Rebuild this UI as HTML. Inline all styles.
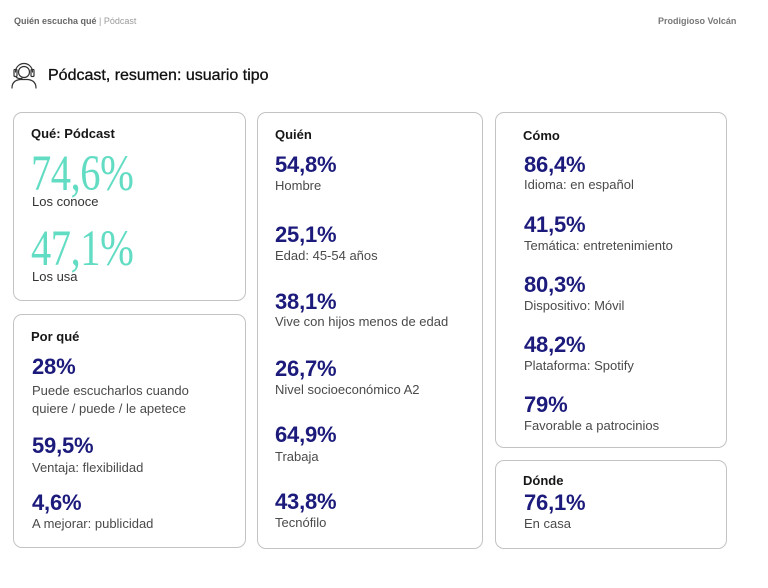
<!DOCTYPE html>
<html>
<head>
<meta charset="utf-8">
<style>
  html,body{margin:0;padding:0;background:#fff;}
  body{width:768px;height:588px;position:relative;overflow:hidden;font-family:"Liberation Sans",Arial,sans-serif;}
  .a{position:absolute;white-space:nowrap;}
  .box{position:absolute;border:1.3px solid #c3c3c3;border-radius:9px;box-sizing:border-box;background:#fff;}
  .hd{font-size:13px;line-height:16px;font-weight:bold;color:#161616;}
  .num{font-size:22px;line-height:22px;font-weight:bold;color:#1c1b7c;letter-spacing:-0.2px;}
  .lab{font-size:13px;line-height:16px;color:#4a4a4a;}
  .big{font-family:"Liberation Serif","Times New Roman",serif;font-size:46px;line-height:46px;color:#62dcc3;transform:scale(0.88,1.1);transform-origin:0 0;letter-spacing:-0.5px;}
</style>
</head>
<body>
  <div class="a" style="left:14px;top:15px;font-size:9px;line-height:12px;"><b style="color:#666;">Quién escucha qué</b> <span style="color:#9a9a9a;">| Pódcast</span></div>
  <div class="a" style="left:658px;top:15px;font-size:9px;line-height:12px;font-weight:bold;color:#777;">Prodigioso Volcán</div>

  <svg class="a" style="left:0;top:0" width="60" height="100" viewBox="0 0 60 100">
    <g fill="none" stroke="#333" stroke-width="1.2" stroke-linecap="round">
      <circle cx="24" cy="72" r="5.5"/>
      <path d="M15.5,72 A8.5,8.5 0 0 1 32.5,72"/>
      <rect x="14" y="69.5" width="3" height="7" rx="1"/>
      <rect x="31" y="69.5" width="3" height="7" rx="1"/>
      <path d="M16,76.5 Q17,79 22,78.5"/>
      <path d="M12,88 C12,82 16,80 20,79.5 L28,79.5 C32,80 36,82 36,88"/>
    </g>
  </svg>
  <div class="a" style="left:48px;top:66px;font-size:16px;line-height:20px;color:#111;-webkit-text-stroke:0.3px #111;">Pódcast, resumen: usuario tipo</div>

  <div class="box" style="left:13px;top:112px;width:233px;height:189px;"></div>
  <div class="box" style="left:13px;top:314px;width:233px;height:234px;"></div>
  <div class="box" style="left:257px;top:112px;width:226px;height:437px;"></div>
  <div class="box" style="left:495px;top:112px;width:232px;height:336px;"></div>
  <div class="box" style="left:495px;top:460px;width:232px;height:89px;"></div>

  <!-- Box 1 -->
  <div class="a hd" style="left:31px;top:126px;">Qué: Pódcast</div>
  <div class="a big" style="left:31px;top:148px;">74,6%</div>
  <div class="a lab" style="left:32px;top:194px;color:#333;">Los conoce</div>
  <div class="a big" style="left:31px;top:223px;">47,1%</div>
  <div class="a lab" style="left:32px;top:269px;color:#333;">Los usa</div>

  <!-- Box 2 -->
  <div class="a hd" style="left:31px;top:329px;">Por qué</div>
  <div class="a num" style="left:32px;top:356px;">28%</div>
  <div class="a lab" style="left:32px;top:382px;line-height:18px;">Puede escucharlos cuando<br>quiere / puede / le apetece</div>
  <div class="a num" style="left:32px;top:435px;">59,5%</div>
  <div class="a lab" style="left:32px;top:460px;">Ventaja: flexibilidad</div>
  <div class="a num" style="left:32px;top:492px;">4,6%</div>
  <div class="a lab" style="left:32px;top:516px;">A mejorar: publicidad</div>

  <!-- Box 3 -->
  <div class="a hd" style="left:275px;top:127px;">Quién</div>
  <div class="a num" style="left:275px;top:154px;">54,8%</div>
  <div class="a lab" style="left:275px;top:178px;">Hombre</div>
  <div class="a num" style="left:275px;top:224px;">25,1%</div>
  <div class="a lab" style="left:275px;top:248px;">Edad: 45-54 años</div>
  <div class="a num" style="left:275px;top:291px;">38,1%</div>
  <div class="a lab" style="left:275px;top:314px;">Vive con hijos menos de edad</div>
  <div class="a num" style="left:275px;top:358px;">26,7%</div>
  <div class="a lab" style="left:275px;top:382px;">Nivel socioeconómico A2</div>
  <div class="a num" style="left:275px;top:424px;">64,9%</div>
  <div class="a lab" style="left:275px;top:449px;">Trabaja</div>
  <div class="a num" style="left:275px;top:491px;">43,8%</div>
  <div class="a lab" style="left:275px;top:515px;">Tecnófilo</div>

  <!-- Box 4 -->
  <div class="a hd" style="left:523px;top:128px;">Cómo</div>
  <div class="a num" style="left:524px;top:154px;">86,4%</div>
  <div class="a lab" style="left:524px;top:177px;">Idioma: en español</div>
  <div class="a num" style="left:524px;top:214px;">41,5%</div>
  <div class="a lab" style="left:524px;top:238px;">Temática: entretenimiento</div>
  <div class="a num" style="left:524px;top:274px;">80,3%</div>
  <div class="a lab" style="left:524px;top:298px;">Dispositivo: Móvil</div>
  <div class="a num" style="left:524px;top:334px;">48,2%</div>
  <div class="a lab" style="left:524px;top:358px;">Plataforma: Spotify</div>
  <div class="a num" style="left:524px;top:394px;">79%</div>
  <div class="a lab" style="left:524px;top:418px;">Favorable a patrocinios</div>

  <!-- Box 5 -->
  <div class="a hd" style="left:523px;top:473px;">Dónde</div>
  <div class="a num" style="left:524px;top:492px;">76,1%</div>
  <div class="a lab" style="left:524px;top:516px;">En casa</div>
</body>
</html>
